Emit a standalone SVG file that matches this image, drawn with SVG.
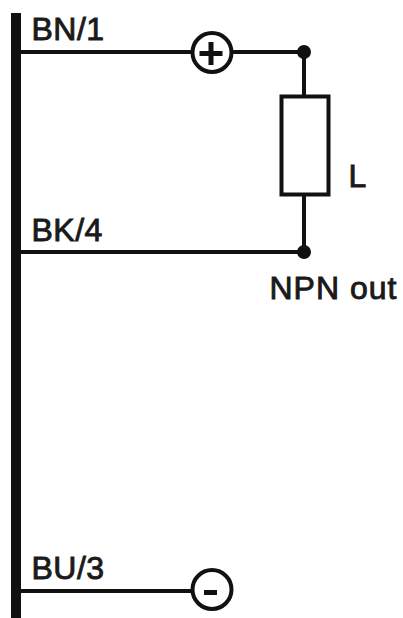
<svg xmlns="http://www.w3.org/2000/svg" width="403" height="618" viewBox="0 0 403 618">
<style>
.w{stroke:#111;stroke-width:4;fill:none}
.f{fill:#fff;stroke:#111;stroke-width:4}
.d{fill:#111}
.s{stroke:#111;stroke-width:5;fill:none}
text{font-family:"Liberation Sans",Arial,sans-serif;font-size:32px;letter-spacing:.5px;fill:#1a1a1a;stroke:#1a1a1a;stroke-width:.9}
</style>
<rect width="403" height="618" fill="#fff"/>
<g id="connectors">
<path class="w" d="M21 52H304V96M304 195V252M21 252H304M21 591H192"/>
</g>
<g id="bus"><rect x="11" y="13" width="10" height="605" fill="#111"/></g>
<g id="plus"><circle class="f" cx="212" cy="52.500" r="19.500"/><path class="s" d="M199.500 53.500H222.500M211 42V65"/></g>
<g id="minus"><circle class="f" cx="212" cy="589.500" r="19.500"/><path d="M204 592.500H217" stroke="#111" stroke-width="5" fill="none"/></g>
<g id="load"><rect class="f" x="281.500" y="96.500" width="47" height="98"/></g>
<g id="dot1"><circle class="d" cx="304" cy="52" r="7"/></g>
<g id="dot2"><circle class="d" cx="304" cy="252" r="7"/></g>
<g id="labels">
<text x="31.500" y="40">BN/1</text>
<text x="31.500" y="240.500">BK/4</text>
<text x="31.500" y="579">BU/3</text>
<text x="348.500" y="187">L</text>
<text x="269.500" y="298.500" style="letter-spacing:1px">NPN out</text>
</g>
</svg>
